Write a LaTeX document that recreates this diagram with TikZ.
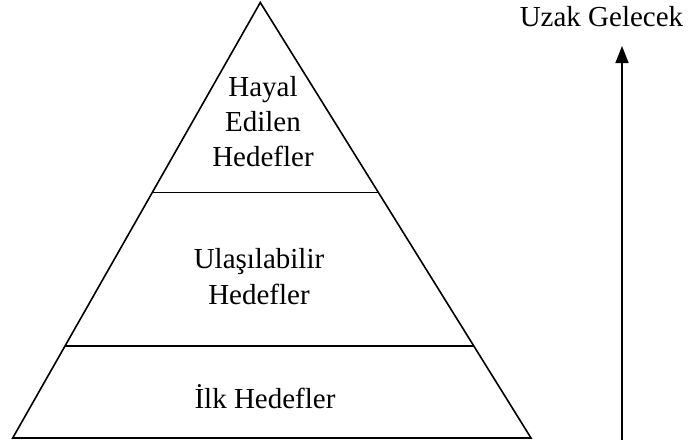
\documentclass[tikz,border=0pt]{standalone}
\usepackage{fontspec}
\setmainfont{Liberation Serif}
\usetikzlibrary{arrows.meta, calc}

\tikzset{
	layer/.style={font=\fontsize{29}{35}\selectfont, inner sep=0pt, align=center},
	edge/.style={line width=1.6pt, line join=miter},
}

\begin{document}
\begin{tikzpicture}[x=1pt, y=-1pt]
	\useasboundingbox (0,0) rectangle (689,442);
	
	\coordinate (top) at (260.3,2.5);
	\coordinate (bl) at (12.7,438);
	\coordinate (br) at (531,438);
	
	\coordinate (l1) at ($(bl)!0.2112!(top)$);
	\coordinate (r1) at ($(br)!0.2112!(top)$);
	\coordinate (l2) at ($(bl)!0.5636!(top)$);
	\coordinate (r2) at ($(br)!0.5636!(top)$);
	
	\node[layer] (dream) at (263,121.9) {Hayal\\Edilen\\Hedefler};
	\node[layer, font=\fontsize{29}{35.7}\selectfont] (reach) at (259,276.3) {Ulaşılabilir\\Hedefler};
	\node[layer, anchor=base] (first) at (265,408.3) {İlk Hedefler};
	
	\node[layer, anchor=base] (future) at (601.5,26.7) {Uzak Gelecek};
	\coordinate (now) at (622,439.5);
	\coordinate (tip) at (622,46);
	
	\draw[edge] (top) -- (bl) -- (br) -- cycle;
	\draw[edge] (l1) -- (r1);
	\draw[edge] (l2) -- (r2);
	\draw[edge, -{Triangle[width=13pt,length=17pt]}] (now) -- (tip);
\end{tikzpicture}
\end{document}
